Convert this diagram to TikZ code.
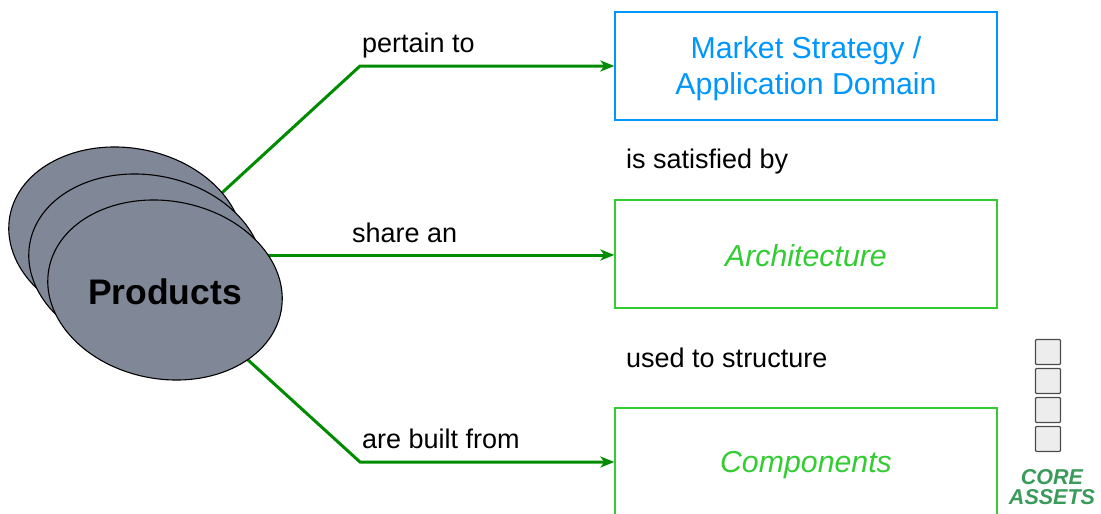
\documentclass[tikz,border=0pt]{standalone}
\usepackage{fontspec}
\setmainfont{Liberation Sans}
\usetikzlibrary{shapes.geometric,arrows.meta}
\definecolor{arrowgreen}{RGB}{0,140,0}
\definecolor{boxgreen}{RGB}{51,204,51}
\definecolor{boxblue}{RGB}{0,150,255}
\definecolor{prodgray}{RGB}{128,135,150}
\definecolor{coregreen}{RGB}{58,154,90}
\tikzset{
  conn/.style={draw=arrowgreen, line width=3pt, -{Stealth[length=14pt,width=11pt,inset=4pt]}},
  prod/.style={ellipse, draw=black, line width=1.1pt, fill=prodgray, minimum width=236pt, minimum height=178pt, rotate=-10, inner sep=0pt},
  bluebox/.style={draw=boxblue, line width=1.3pt, minimum width=382pt, minimum height=108pt},
  greenbox/.style={draw=boxgreen, line width=1.3pt, minimum width=382pt, minimum height=108pt},
  bluetext/.style={text=boxblue, font=\fontsize{30.3}{36}\selectfont, align=center, inner sep=0pt},
  greentext/.style={text=boxgreen, font=\fontsize{30.3}{36}\selectfont\itshape, inner sep=0pt},
  lbl/.style={anchor=base west, font=\fontsize{27}{30}\selectfont, inner sep=0pt},
  asset/.style={draw=black!70, fill=black!7, line width=1.1pt, minimum size=25pt, inner sep=0pt, rounded corners=1pt},
  coretext/.style={anchor=base, text=coregreen, font=\fontsize{21.5}{20}\selectfont\bfseries\itshape, inner sep=0pt}
}
\begin{document}
\begin{tikzpicture}[x=1pt,y=-1pt]
\useasboundingbox (0,0) rectangle (1101,514);
% boxes
\node[bluebox] (mkt) at (806,66) {};
\node[greenbox] (arch) at (806,254) {};
\node[greenbox] (comp) at (806,462) {};
\node[bluetext] (mkttxt) at ([yshift=-3pt]mkt.center) {Market Strategy /\\Application Domain};
\node[greentext] (archtxt) at ([yshift=-2pt]arch.center) {Architecture};
\node[greentext] (comptxt) at ([yshift=-3pt]comp.center) {Components};
% connectors (start points hidden behind ellipses)
\coordinate (s1) at (200,213);
\coordinate (b1) at (360,66);
\coordinate (s2) at (250,255);
\coordinate (s3) at (225,339);
\coordinate (b3) at (360,462);
\draw[conn] (s1) -- (b1) -- (b1 -| mkt.west);
\draw[conn] (s2) -- (s2 -| arch.west);
\draw[conn] (s3) -- (b3) -- (b3 -| comp.west);
% products
\node[prod] (e1) at (126,237) {};
\node[prod] (e2) at (146,264) {};
\node[prod] (e3) at (165,290) {};
\node[font=\fontsize{35.5}{40}\selectfont\bfseries] (ptxt) at (165,292) {Products};
% labels
\node[lbl] (l1) at (362,52) {pertain to};
\node[lbl] (l2) at (352,242) {share an};
\node[lbl] (l3) at (362,448) {are built from};
\node[lbl] (l4) at (626,168) {is satisfied by};
\node[lbl] (l5) at (626,367) {used to structure};
% core assets
\node[asset] (a1) at (1048,352) {};
\node[asset] (a2) at (1048,381) {};
\node[asset] (a3) at (1048,410) {};
\node[asset] (a4) at (1048,439) {};
\node[coretext] (core1) at (1052,484) {CORE};
\node[coretext] (core2) at (1052,504.5) {ASSETS};
\end{tikzpicture}
\end{document}
